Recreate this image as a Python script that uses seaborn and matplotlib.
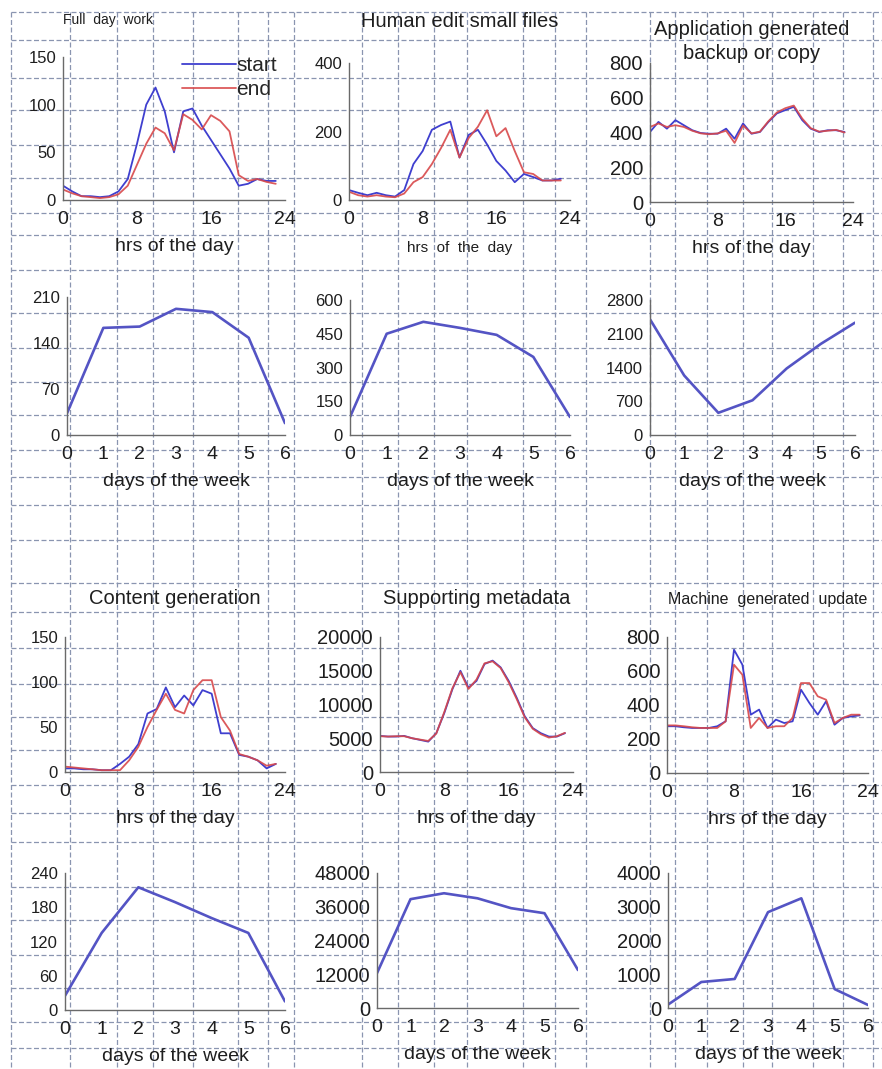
import matplotlib
matplotlib.use("Agg")
import matplotlib.pyplot as plt
import seaborn as sns

# ---- data ----
hours = list(range(24))
days = list(range(7))

full_start = [15, 9, 4, 4, 3, 4, 9, 22, 59, 100, 118, 93, 50, 93, 96, 78, 63, 48, 33, 15, 17, 22, 20, 20]
full_end = [11, 7, 4, 3, 2, 3, 6, 15, 37, 59, 76, 70, 52, 90, 84, 74, 89, 83, 72, 26, 20, 22, 19, 17]

human_start = [29, 21, 14, 21, 14, 10, 29, 105, 143, 205, 219, 229, 124, 190, 205, 162, 114, 86, 52, 76, 67, 57, 57, 62]
human_end = [24, 14, 10, 14, 10, 8, 19, 52, 67, 105, 152, 205, 124, 181, 214, 262, 186, 210, 143, 81, 76, 57, 57, 57]

app_start = [403, 461, 422, 471, 442, 413, 397, 393, 393, 422, 364, 452, 393, 403, 461, 510, 529, 548, 471, 422, 403, 413, 413, 403]
app_end = [432, 452, 432, 442, 432, 410, 395, 390, 395, 410, 340, 440, 395, 405, 465, 515, 540, 555, 480, 425, 405, 410, 415, 400]

content_start = [4, 4, 3, 3, 2, 2, 9, 17, 31, 65, 70, 94, 72, 85, 74, 91, 87, 43, 43, 19, 17, 13, 4, 9]
content_end = [6, 5, 4, 3, 2, 2, 2, 13, 28, 50, 69, 87, 69, 65, 91, 102, 102, 61, 46, 20, 17, 13, 7, 9]

meta_start = [5350, 5250, 5250, 5350, 5000, 4750, 4500, 5750, 8750, 12250, 15000, 12500, 13500, 16000, 16500, 15500,
              13500, 11000, 8250, 6500, 5750, 5250, 5250, 5750]
meta_end = [5300, 5250, 5300, 5300, 5000, 4800, 4600, 5700, 8900, 12400, 14800, 12300, 13700, 16100, 16400, 15400,
            13300, 10800, 8100, 6400, 5600, 5100, 5300, 5800]

machine_start = [275, 275, 269, 265, 265, 265, 275, 304, 725, 637, 343, 373, 265, 314, 294, 304, 490, 412, 343, 422,
                 284, 324, 333, 339]
machine_end = [280, 280, 275, 269, 265, 265, 265, 304, 637, 578, 265, 324, 265, 275, 275, 324, 529, 529, 451, 431,
               294, 324, 343, 343]

full_week = [33, 163, 165, 192, 187, 148, 18]
human_week = [80, 450, 503, 476, 445, 347, 80]
app_week = [2400, 1235, 460, 720, 1380, 1890, 2330]
content_week = [25, 135, 215, 189, 161, 135, 15]
meta_week = [12400, 38700, 40800, 39000, 35500, 33700, 13500]
machine_week = [100, 770, 860, 2840, 3250, 560, 90]

hour_ticks = [0, 8, 16, 24]
day_ticks = [0, 1, 2, 3, 4, 5, 6]

# ---- style ----
sns.set_style("white")
plt.rcParams["font.family"] = ["Liberation Sans", "DejaVu Sans"]

BLUE = "#3f3fcf"
RED = "#d8484a"
WEEK = "#5454c4"
GRID = "#8a95b0"
INK = "#1e1e1e"

W, H = 882, 1069
fig = plt.figure(figsize=(W / 100, H / 100), dpi=100)
fig.patch.set_facecolor("white")

# page background: dashed table grid of the scanned page
bg = fig.add_axes([0, 0, 1, 1], zorder=-5)
bg.set_xlim(0, W)
bg.set_ylim(H, 0)
bg.axis("off")
vgrid = [11, 70, 117, 153, 193, 238, 268, 294, 362, 398, 434, 467, 523, 555, 586,
         650, 675, 707, 743, 772, 813, 843, 873]
hgrid = [12, 40, 78, 110, 145, 178, 213, 235, 270, 313, 348, 382, 415, 450, 477, 505,
         540, 583, 612, 648, 684, 717, 750, 785, 813, 842, 887, 920, 955, 988, 1022, 1048]
for gx in vgrid:
    bg.plot([gx, gx], [12, H], color=GRID, lw=0.9, ls=(0, (4, 2)))
for gy in hgrid:
    bg.plot([11, W], [gy, gy], color=GRID, lw=0.9, ls=(0, (4, 2)))


def box(l, t, r, b):
    return [l / W, 1 - b / H, (r - l) / W, (b - t) / H]


def style_axes(ax, ymax, yticks, xlim, xticks, xlabel, ysize=12):
    ax.set_facecolor("none")
    sns.despine(ax=ax)
    for s in ("left", "bottom"):
        ax.spines[s].set_color("#6a6a6a")
        ax.spines[s].set_linewidth(1.0)
    ax.set_ylim(0, ymax)
    ax.set_xlim(*xlim)
    ax.set_yticks(yticks)
    ax.set_xticks(xticks)
    ax.set_yticklabels([str(t) for t in yticks], fontsize=ysize, color=INK)
    ax.set_xticklabels([str(t) for t in xticks], fontsize=14, color=INK)
    ax.tick_params(axis="y", direction="out", length=4, width=0.8, color="#6a6a6a", pad=1)
    ax.tick_params(axis="x", direction="in", length=4, width=0.8, color="#6a6a6a", pad=8)
    ax.set_xlabel(xlabel, fontsize=14, color=INK, labelpad=7)
    ax.set_ylabel("")
    ax.margins(x=0)


def hour_panel(rect, start, end, ymax, yticks, title, title_loc="center", title_size=14.5,
               title_pad=24, ysize=12, xlabel="hrs of the day"):
    ax = fig.add_axes(box(*rect))
    sns.lineplot(x=hours, y=start, ax=ax, color=BLUE, lw=1.3, label="start")
    sns.lineplot(x=hours, y=end, ax=ax, color=RED, lw=1.3, label="end", alpha=0.9)
    style_axes(ax, ymax, yticks, (0, 24), hour_ticks, xlabel, ysize)
    ax.set_title(title, loc=title_loc, fontsize=title_size, color=INK, pad=title_pad,
                 linespacing=1.35)
    return ax


def week_panel(rect, vals, ymax, yticks, ysize=12):
    ax = fig.add_axes(box(*rect))
    sns.lineplot(x=days, y=vals, ax=ax, color=WEEK, lw=1.9)
    style_axes(ax, ymax, yticks, (0, 6), day_ticks, "days of the week", ysize)
    return ax


# row 1: hourly
ax1 = hour_panel((63, 57, 285, 200), full_start, full_end, 150, [0, 50, 100, 150],
                 "Full  day  work", title_loc="left", title_size=10, title_pad=24)
ax1.title.set_x(0.03)
ax1.legend(loc="upper left", bbox_to_anchor=(0.49, 1.08), frameon=False, fontsize=15,
           handlelength=2.6, handletextpad=0.0, labelspacing=0.25, borderpad=0)
ax2 = hour_panel((349, 63, 570, 200), human_start, human_end, 400, [0, 200, 400],
                 "Human edit small files", title_pad=26)
ax2.get_legend().remove()
ax2.set_xlabel("hrs  of  the  day", fontsize=11, labelpad=9)
ax3 = hour_panel((650, 63, 853, 202), app_start, app_end, 800, [0, 200, 400, 600, 800],
                 "Application generated\nbackup or copy", title_pad=3, ysize=14.5)
ax3.get_legend().remove()

# row 2: weekly
week_panel((67, 297, 285, 435), full_week, 210, [0, 70, 140, 210])
week_panel((350, 300, 570, 435), human_week, 600, [0, 150, 300, 450, 600])
week_panel((650, 300, 855, 435), app_week, 2800, [0, 700, 1400, 2100, 2800])

# row 3: hourly
ax7 = hour_panel((65, 637, 285, 772), content_start, content_end, 150, [0, 50, 100, 150],
                 "Content generation")
ax7.get_legend().remove()
ax8 = hour_panel((380, 637, 573, 772), meta_start, meta_end, 20000, [0, 5000, 10000, 15000, 20000],
                 "Supporting metadata", ysize=14.5)
ax8.get_legend().remove()
ax9 = hour_panel((667, 637, 868, 773), machine_start, machine_end, 800, [0, 200, 400, 600, 800],
                 "Machine  generated  update", title_size=11.5, ysize=14.5)
ax9.get_legend().remove()

# row 4: weekly
week_panel((65, 873, 285, 1010), content_week, 240, [0, 60, 120, 180, 240])
week_panel((377, 873, 578, 1008), meta_week, 48000, [0, 12000, 24000, 36000, 48000], ysize=14.5)
week_panel((668, 873, 868, 1008), machine_week, 4000, [0, 1000, 2000, 3000, 4000], ysize=14.5)

fig.savefig("out.png", dpi=100, facecolor="white")
